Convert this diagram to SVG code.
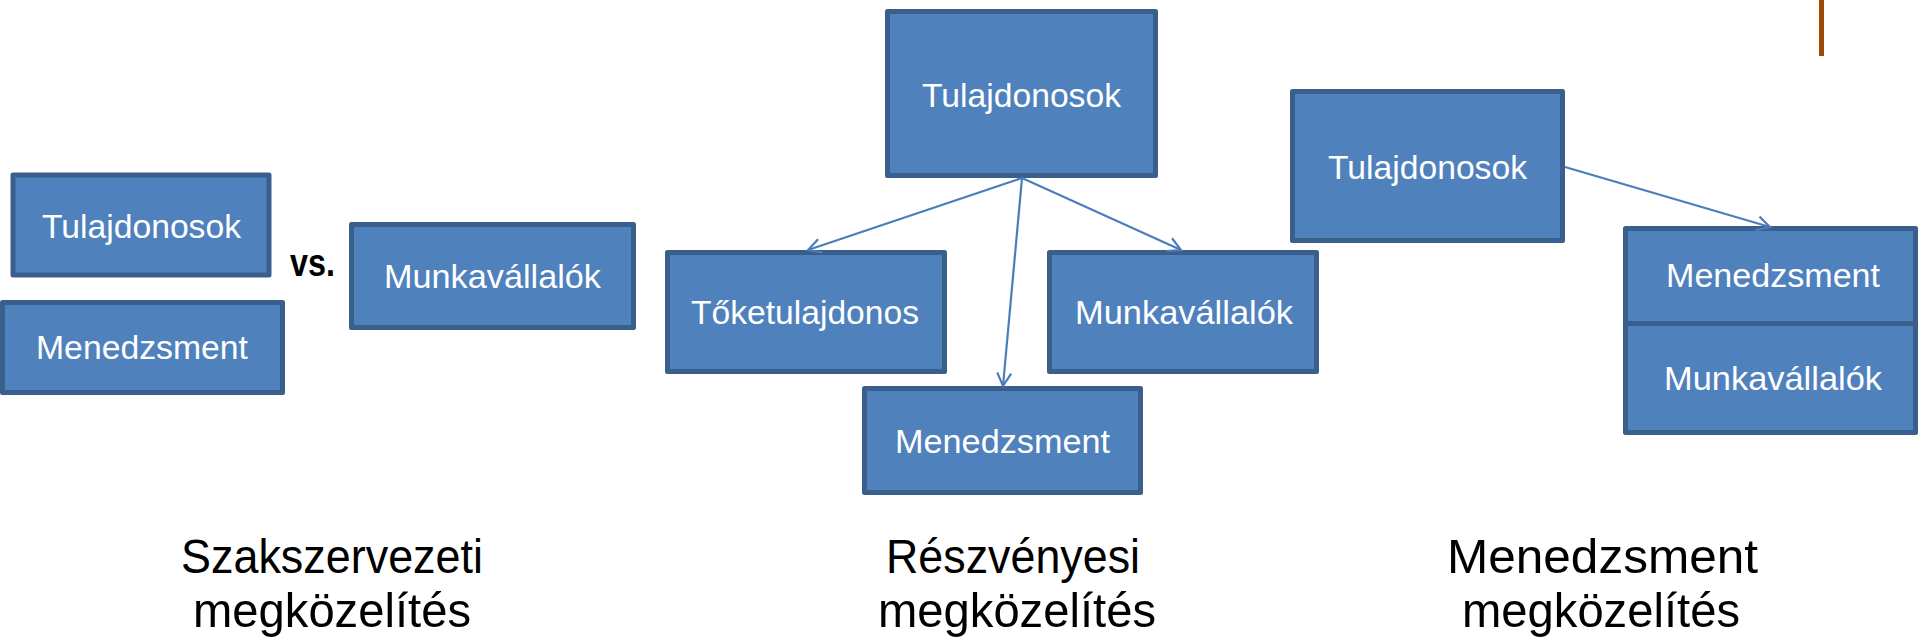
<svg xmlns="http://www.w3.org/2000/svg" width="1920" height="644" viewBox="0 0 1920 644">
<style>
.box{fill:#4F81BD;stroke:#3A5F8C;stroke-width:5;stroke-linejoin:round}
.lbl{font-family:"Liberation Sans",Arial,sans-serif;font-size:33px;fill:#FFFFFF}
.cap{font-family:"Liberation Sans",Arial,sans-serif;font-size:49px;fill:#000000}
.vs{font-family:"Liberation Sans",Arial,sans-serif;font-size:39px;font-weight:bold;fill:#000000}
.conn{stroke:#4A7EBB;stroke-width:2.2;fill:none}
</style>
<defs>
<marker id="arr" markerUnits="userSpaceOnUse" viewBox="-16 -10 20 20" refX="0" refY="0" markerWidth="20" markerHeight="20" orient="auto">
<path d="M -13 -7 L 0 0 L -13 7" fill="none" stroke="#4A7EBB" stroke-width="2.2"/>
</marker>
</defs>
<rect width="1920" height="644" fill="#FFFFFF"/>
<rect x="1819" y="0" width="5" height="56" fill="#A04A08"/>

<g id="left-tulajdonosok"><rect class="box" x="13" y="175" width="256" height="100"/><text class="lbl" x="42" y="238" textLength="199" lengthAdjust="spacingAndGlyphs">Tulajdonosok</text></g>
<g id="left-menedzsment"><rect class="box" x="2.5" y="302.5" width="280" height="90"/><text class="lbl" x="36" y="359" textLength="212" lengthAdjust="spacingAndGlyphs">Menedzsment</text></g>
<g id="left-munkavallalok"><rect class="box" x="351.5" y="224.5" width="282" height="103"/><text class="lbl" x="384" y="288" textLength="217" lengthAdjust="spacingAndGlyphs">Munkavállalók</text></g>
<text class="vs" x="290" y="276" textLength="45" lengthAdjust="spacingAndGlyphs">vs.</text>

<g id="mid-tulajdonosok"><rect class="box" x="887.5" y="11.5" width="268" height="164"/><text class="lbl" x="922" y="107" textLength="199" lengthAdjust="spacingAndGlyphs">Tulajdonosok</text></g>
<g id="mid-toketulajdonos"><rect class="box" x="667.5" y="252.5" width="277" height="119"/><text class="lbl" x="691" y="324" textLength="228" lengthAdjust="spacingAndGlyphs">Tőketulajdonos</text></g>
<g id="mid-munkavallalok"><rect class="box" x="1049.5" y="252.5" width="267" height="119"/><text class="lbl" x="1075" y="324" textLength="218" lengthAdjust="spacingAndGlyphs">Munkavállalók</text></g>
<g id="mid-menedzsment"><rect class="box" x="864.5" y="388.5" width="276" height="104"/><text class="lbl" x="895" y="453" textLength="215" lengthAdjust="spacingAndGlyphs">Menedzsment</text></g>

<g id="right-tulajdonosok"><rect class="box" x="1292.5" y="91.5" width="270" height="149"/><text class="lbl" x="1328" y="179" textLength="199" lengthAdjust="spacingAndGlyphs">Tulajdonosok</text></g>
<g id="right-menedzsment"><rect class="box" x="1625.5" y="228.5" width="290" height="95"/><text class="lbl" x="1666" y="287" textLength="214" lengthAdjust="spacingAndGlyphs">Menedzsment</text></g>
<g id="right-munkavallalok"><rect class="box" x="1625.5" y="323.5" width="290" height="109"/><text class="lbl" x="1664" y="390" textLength="218" lengthAdjust="spacingAndGlyphs">Munkavállalók</text></g>

<g id="connectors">
<line class="conn" x1="1022" y1="178" x2="808" y2="250" marker-end="url(#arr)"/>
<line class="conn" x1="1022" y1="178" x2="1003" y2="386" marker-end="url(#arr)"/>
<line class="conn" x1="1022" y1="178" x2="1181" y2="250" marker-end="url(#arr)"/>
<line class="conn" x1="1565" y1="167" x2="1770" y2="227" marker-end="url(#arr)"/>
</g>

<g id="captions">
<text class="cap" x="181" y="573" textLength="302" lengthAdjust="spacingAndGlyphs">Szakszervezeti</text>
<text class="cap" x="193" y="627" textLength="278" lengthAdjust="spacingAndGlyphs">megközelítés</text>
<text class="cap" x="886" y="573" textLength="254" lengthAdjust="spacingAndGlyphs">Részvényesi</text>
<text class="cap" x="878" y="627" textLength="278" lengthAdjust="spacingAndGlyphs">megközelítés</text>
<text class="cap" x="1447" y="573" textLength="311" lengthAdjust="spacingAndGlyphs">Menedzsment</text>
<text class="cap" x="1462" y="627" textLength="278" lengthAdjust="spacingAndGlyphs">megközelítés</text>
</g>
</svg>
